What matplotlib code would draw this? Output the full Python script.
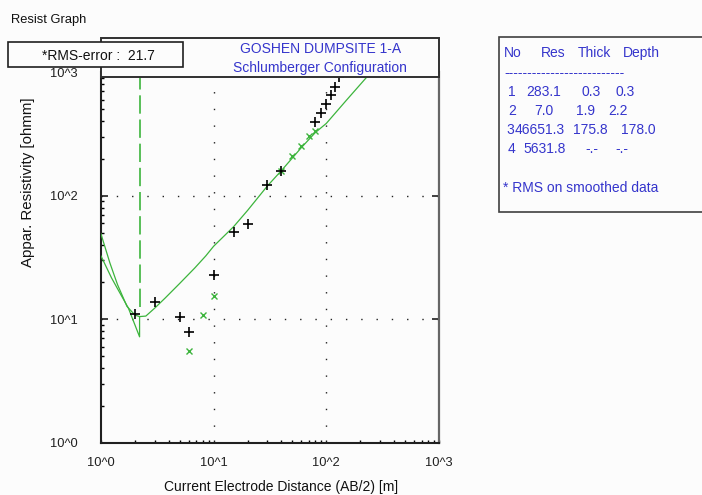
import matplotlib
matplotlib.use("Agg")
import matplotlib.pyplot as plt
from matplotlib.patches import Rectangle
from matplotlib.ticker import LogLocator, NullFormatter, FixedLocator

# ---------------- data ----------------
ab2_field = [2, 3, 5, 6, 10, 15, 20, 30, 40, 80, 90, 100, 110, 120, 130]
rho_field = [11.1, 13.7, 10.5, 7.9, 23.0, 51, 59, 123, 159, 394, 464, 550, 654, 761, 906]

ab2_smooth = [6, 8, 10, 40, 50, 60, 70, 80]
rho_smooth = [5.5, 10.8, 15.3, 159, 211, 254, 302, 334]

ab2_model = [1, 1.2, 1.4, 1.7, 2.0, 2.2, 2.5, 3.0, 3.7, 5, 6.8, 8.5, 10, 15, 20, 30,
             40, 60, 80, 100, 150, 244, 300]
rho_model = [48.9, 28.5, 19.1, 12.7, 10.8, 10.5, 10.6, 12.3, 14.8, 19.5, 26, 32.5, 39,
             56, 76, 120, 160, 245, 325, 385, 590, 977, 1200]

ab2_alt = [1, 1.24, 1.5, 1.75, 2.2, 2.2]
rho_alt = [32.5, 21.6, 15.8, 12.3, 7.2, 10.5]

boundary_depth = 2.2
boundary_rho = [12.6, 1000]

tick_vals = [1, 10, 100, 1000]
tick_labels = ["10^0", "10^1", "10^2", "10^3"]

layer_no = ["1", "2", "3", "4"]
layer_res = ["283.1", "7.0", "46651.3", "5631.8"]
layer_thick = ["0.3", "1.9", "175.8", "-.-"]
layer_depth = ["0.3", "2.2", "178.0", "-.-"]

title_lines = ["GOSHEN DUMPSITE 1-A", "Schlumberger Configuration"]
rms_text = "*RMS-error :  21.7"

# ---------------- style ----------------
W, H = 702, 495
BG = "#fcfcfc"
GREEN = "#3cb43c"
BLUE = "#3535cc"
plt.rcParams["font.family"] = ["Liberation Sans", "DejaVu Sans"]

fig = plt.figure(figsize=(W / 100, H / 100), dpi=100, facecolor=BG)

def fx(x):
    return x / W

def fy(y):
    return 1 - y / H

L, R, T, B = 101, 439, 72.2, 442.7
ax = fig.add_axes([fx(L), fy(B), (R - L) / W, (B - T) / H])
ax.set_facecolor(BG)
ax.set_xscale("log")
ax.set_yscale("log")
ax.set_xlim(1, 1000)
ax.set_ylim(1, 1000)

# grid (dotted)
for v in [10, 100]:
    ax.plot([v, v], [1, 1000], color="#222222", lw=1.0, dashes=(1, 11), zorder=1)
    ax.plot([1, 1000], [v, v], color="#222222", lw=1.0, dashes=(1, 10), zorder=1)

# boundary dashed line
ax.plot([boundary_depth, boundary_depth], boundary_rho, color=GREEN, lw=1.2,
        dashes=(11, 3.5), zorder=2)

# curves
ax.plot(ab2_model, rho_model, color=GREEN, lw=0.9, zorder=3)
ax.plot(ab2_alt, rho_alt, color=GREEN, lw=0.9, zorder=3)

# points
ax.plot(ab2_smooth, rho_smooth, ls="none", marker="x", ms=4.5, mew=1.0,
        color=GREEN, zorder=4)
ax.plot(ab2_field, rho_field, ls="none", marker="+", ms=7.5, mew=1.2,
        color="black", zorder=5)

# ticks
ax.xaxis.set_major_locator(FixedLocator(tick_vals))
ax.yaxis.set_major_locator(FixedLocator(tick_vals))
ax.set_xticklabels(tick_labels)
ax.set_yticklabels(tick_labels)
ax.xaxis.set_minor_locator(LogLocator(base=10, subs=range(2, 10)))
ax.yaxis.set_minor_locator(LogLocator(base=10, subs=range(2, 10)))
ax.xaxis.set_minor_formatter(NullFormatter())
ax.yaxis.set_minor_formatter(NullFormatter())

ax.tick_params(axis="x", which="major", direction="in", length=2.5, width=1,
               pad=10, labelsize=9.3, colors="#202020")
ax.tick_params(axis="x", which="minor", direction="in", length=2.5, width=1)
ax.tick_params(axis="y", which="major", direction="in", length=5, width=1.2,
               pad=17, labelsize=9.3, colors="#202020", right=True)
ax.tick_params(axis="y", which="minor", direction="in", length=2.5, width=1)
ax.tick_params(axis="y", which="minor", right=False)

for s in ["left", "bottom"]:
    ax.spines[s].set_color("#202020")
    ax.spines[s].set_linewidth(1.5)
ax.spines["right"].set_color("#666666")
ax.spines["right"].set_linewidth(1.6)
ax.spines["top"].set_visible(False)

# ---------------- boxes ----------------
def rect(x0, y0, x1, y1, ec, lw, z):
    r = Rectangle((fx(x0), fy(y1)), (x1 - x0) / W, (y1 - y0) / H,
                  transform=fig.transFigure, facecolor=BG, edgecolor=ec,
                  linewidth=lw, zorder=z)
    fig.add_artist(r)

rect(101, 38.3, 439, 77.0, "#303030", 1.4, 5)
rect(8, 42, 183, 66.7, "#202020", 1.2, 6)
rect(499.3, 37.3, 712, 211.7, "#404040", 1.2, 5)

fig.text(fx(11), fy(20.5), "Resist Graph", fontsize=9.3, ha="left", va="center",
         color="#111111", zorder=10)
fig.text(fx(98), fy(56.5), rms_text, fontsize=10, ha="center", va="center",
         color="#111111", zorder=10)
fig.text(fx(321), fy(49), title_lines[0], fontsize=10, ha="center", va="center",
         color=BLUE, zorder=10)
fig.text(fx(320), fy(68), title_lines[1], fontsize=10, ha="center", va="center",
         color=BLUE, zorder=10)

# axis labels
fig.text(fx(281), fy(487), "Current Electrode Distance (AB/2) [m]", fontsize=10,
         ha="center", va="center", color="#111111")
fig.text(fx(28), fy(182.5), "Appar. Resistivity [ohmm]", fontsize=10.8,
         rotation=90, ha="center", va="center", color="#111111")

# table in right box
def tt(x, y, s):
    fig.text(fx(x), fy(y), s, fontsize=10, ha="left", va="center", color=BLUE,
             zorder=10)

tt(504, 52.7, "No")
tt(540.7, 52.7, "Res")
tt(578, 52.7, "Thick")
tt(623, 52.7, "Depth")
tt(504, 72.7, "-" * 26)

row_y = [91.7, 110.7, 130, 149]
no_x = [508, 508, 506, 508]
res_x = [526.7, 534, 515, 523.3]
thick_x = [581, 576, 573.3, 585]
depth_x = [615.7, 608, 621, 615]
for i in range(4):
    tt(no_x[i], row_y[i], layer_no[i])
    tt(res_x[i], row_y[i], layer_res[i])
    tt(thick_x[i], row_y[i], layer_thick[i])
    tt(depth_x[i], row_y[i], layer_depth[i])
tt(503, 188.3, "* RMS on smoothed data")

fig.savefig("out.png", dpi=100, facecolor=BG)
